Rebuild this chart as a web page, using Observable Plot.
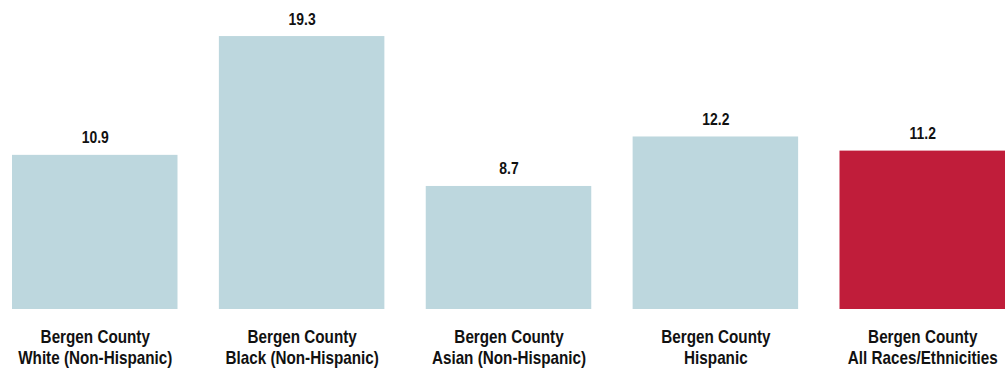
<!DOCTYPE html>
<html>
<head>
<meta charset="utf-8">
<script src="https://cdn.jsdelivr.net/npm/d3@7"></script>
<script src="https://cdn.jsdelivr.net/npm/@observablehq/plot@0.6"></script>
<style>
  html, body { margin: 0; padding: 0; background: #fff; }
  #chart svg { display: block; }
</style>
</head>
<body>
<div id="chart"></div>
<script>
const categories = [
  "Bergen County\nWhite (Non-Hispanic)",
  "Bergen County\nBlack (Non-Hispanic)",
  "Bergen County\nAsian (Non-Hispanic)",
  "Bergen County\nHispanic",
  "Bergen County\nAll Races/Ethnicities"
];
const values = [10.9, 19.3, 8.7, 12.2, 11.2];
const highlight = [false, false, false, false, true];

const data = categories.map((c, i) => ({category: c, value: values[i], hl: highlight[i]}));

const chart = Plot.plot({
  width: 1005,
  height: 369,
  marginTop: 0,
  marginBottom: 60,
  marginLeft: 12,
  marginRight: 0,
  style: {fontFamily: "'Liberation Sans', Arial, sans-serif", background: "#fff"},
  x: {domain: categories, paddingInner: 0.2, paddingOuter: 0, round: false, label: null},
  y: {domain: [0, 21.85], axis: null},
  marks: [
    Plot.barY(data, {x: "category", y: "value", fill: d => d.hl ? "#c01d3a" : "#bdd7de"}),
    Plot.text(data, {x: "category", y: "value", text: d => d.value.toFixed(1), lineAnchor: "bottom", dy: -12, fontSize: 17, fontWeight: "bold", fill: "#111"}),
    Plot.axisX({tickSize: 0, tickPadding: 18.5, fontSize: 18.6, fontWeight: "bold", lineHeight: 1.13, color: "#111", label: null})
  ]
});
// emulate a narrow (condensed) typeface by compressing each text horizontally about its anchor
d3.select(chart).selectAll("text").each(function() {
  const t = this.getAttribute("transform");
  if (t) this.setAttribute("transform", t + " scale(0.82,1)");
});
document.getElementById("chart").appendChild(chart);
</script>
</body>
</html>
